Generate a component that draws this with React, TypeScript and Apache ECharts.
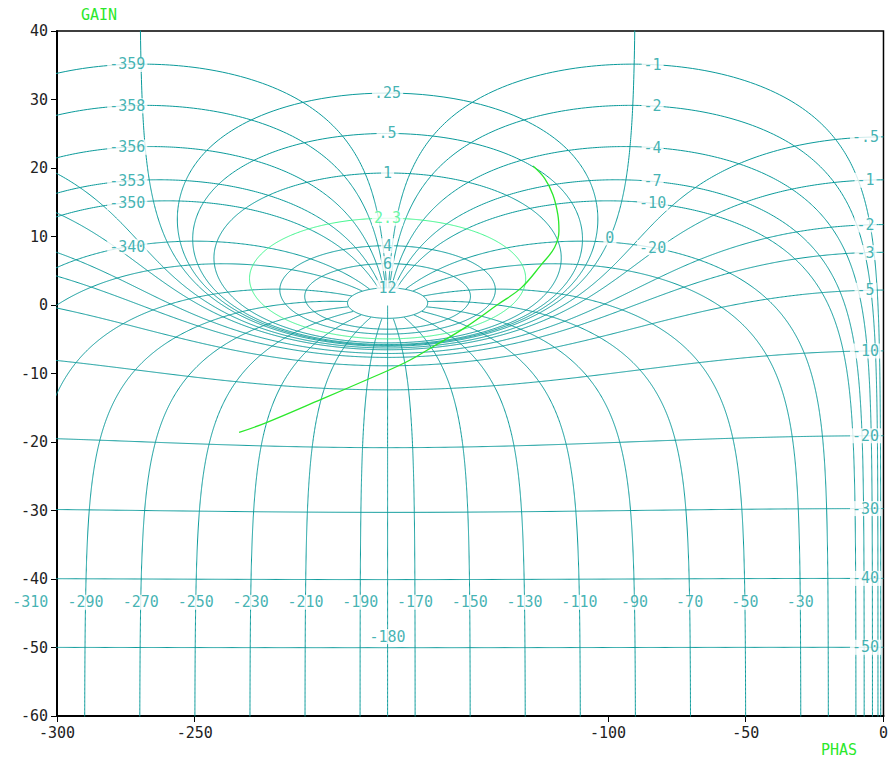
import React, { useEffect, useRef } from 'react';
import * as echarts from 'echarts';

// ---- axes ----
const X_MIN = -300;
const X_MAX = 0;
const Y_MIN = -60;
const Y_MAX = 40;
const xTickValues = [-300, -250, -100, -50, 0];

// ---- Nichols grid levels ----
// closed-loop gain contours (dB)
const posMagDb = [0.25, 0.5, 1, 4, 6, 12];
const highlightMagDb = 2.3;
const zeroMagDb = 0;
const negMagDb = [-0.5, -1, -2, -3, -5, -10, -20, -30, -40, -50];
// closed-loop phase contours (deg)
const phaseTopRight = [-1, -2, -4, -7, -10, -20];
const phaseTopLeft = [-359, -358, -356, -353, -350, -340];
const phaseBottom = [-30, -50, -70, -90, -110, -130, -150, -170, -190, -210, -230, -250, -270, -290, -310, -330];
const phaseCenter = -180;
// phase contours stop at the largest gain contour
const phaseMaxMagDb = 12;

// ---- open-loop response (phase deg, gain dB) ----
const respPhase = [-233.9, -224.2, -203.7, -186.9, -173.6, -164.0, -151.9, -139.9, -131.5, -124.2, -119.4, -117.8, -118.2, -120.0, -123.0, -127.2];
const respGain = [-18.6, -17.2, -13.7, -10.8, -8.4, -6.2, -3.3, 0.1, 2.5, 5.9, 8.4, 10.8, 13.2, 16.1, 18.5, 20.3];

const TEAL = '#0a9a9a';
const TEAL_TXT = '#139f9f';
const MINT = '#3ff58c';
const GREEN = '#2be82b';
const FONT = 'DejaVu Sans Mono';

type P = [number, number];
const D = Math.PI / 180;

// open-loop point from closed-loop magnitude M (linear) and phase psi (deg), unwrapped
function olPoint(M: number, psiDeg: number): P {
  const p = psiDeg * D;
  const dr = 1 - M * Math.cos(p);
  const di = -M * Math.sin(p);
  const ph = psiDeg - Math.atan2(di, dr) / D;
  const g = 20 * Math.log10(M) - 10 * Math.log10(dr * dr + di * di);
  return [ph, g];
}

function phaseContour(psiDeg: number, mMinLog = -4, mMaxLog = phaseMaxMagDb / 20): P[] {
  const pts: P[] = [];
  const n = 1400;
  for (let i = 0; i <= n; i++) {
    const u = -2 + (4 * i) / n; // quadratic spacing dense near M=1
    const l = Math.sign(u) * u * u;
    if (l < mMinLog || l > mMaxLog) continue;
    pts.push(olPoint(Math.pow(10, l), psiDeg));
  }
  pts.push(olPoint(Math.pow(10, mMaxLog), psiDeg));
  return pts;
}

function magContour(mDb: number): P[] {
  const M = Math.pow(10, mDb / 20);
  const pts: P[] = [];
  const n = 2880;
  if (M <= 1) {
    const a = M === 1 ? 0.05 : 0;
    for (let i = 0; i <= n; i++) {
      const psi = -a - ((360 - 2 * a) * i) / n;
      pts.push(olPoint(M, psi));
    }
  } else {
    for (let i = 0; i <= n; i++) {
      const psi = (-360 * i) / n;
      const p = psi * D;
      const tr = M * Math.cos(p), ti = M * Math.sin(p);
      const dr = 1 - tr, di = -ti;
      const den = dr * dr + di * di;
      const gr = (tr * dr + ti * di) / den;
      const gi = (ti * dr - tr * di) / den;
      let ph = Math.atan2(gi, gr) / D;
      if (ph > 0) ph -= 360;
      pts.push([ph, 10 * Math.log10(gr * gr + gi * gi)]);
    }
  }
  return pts;
}

function atPhase(pts: P[], target: number): P | null {
  for (let i = 0; i < pts.length - 1; i++) {
    const a = pts[i], b = pts[i + 1];
    if ((a[0] - target) * (b[0] - target) <= 0 && a[0] !== b[0]) {
      const t = (target - a[0]) / (b[0] - a[0]);
      return [target, a[1] + t * (b[1] - a[1])];
    }
  }
  return null;
}
function atGain(pts: P[], target: number): P | null {
  for (let i = 0; i < pts.length - 1; i++) {
    const a = pts[i], b = pts[i + 1];
    if ((a[1] - target) * (b[1] - target) <= 0 && a[1] !== b[1]) {
      const t = (target - a[1]) / (b[1] - a[1]);
      return [a[0] + t * (b[0] - a[0]), target];
    }
  }
  return null;
}
function topPoint(pts: P[]): P {
  let best = pts[0];
  for (const p of pts) if (p[1] > best[1]) best = p;
  return [-180, best[1]];
}
const fmt = (v: number) => String(v).replace('0.', '.');

function buildOption() {
  const series: any[] = [];
  const labels: any[] = [];
  const lineSeries = (pts: P[], color = TEAL, width = 1, z = 2) => ({
    type: 'line',
    data: pts,
    showSymbol: false,
    symbol: 'none',
    silent: true,
    clip: true,
    z,
    lineStyle: { color, width },
  });
  const addLabel = (p: P | null, text: string, color = TEAL_TXT) => {
    if (!p || p[0] < X_MIN - 12) return; // label would fall off the page
    labels.push({ value: p, name: text, label: { color } });
  };

  // closed-loop magnitude contours
  posMagDb.forEach((m) => {
    const pts = magContour(m);
    series.push(lineSeries(pts));
    addLabel(topPoint(pts), fmt(m));
  });
  {
    const pts = magContour(highlightMagDb);
    series.push(lineSeries(pts, MINT, 1, 3));
    addLabel(topPoint(pts), fmt(highlightMagDb), MINT);
  }
  {
    const pts = magContour(zeroMagDb);
    series.push(lineSeries(pts));
    addLabel(atGain(pts, 9.8), fmt(zeroMagDb));
  }
  negMagDb.forEach((m) => {
    const pts = magContour(m);
    series.push(lineSeries(pts));
    addLabel(atPhase(pts, -6.5), fmt(m));
  });

  // closed-loop phase contours
  phaseTopRight.forEach((ps) => {
    const pts = phaseContour(ps);
    series.push(lineSeries(pts));
    addLabel(atPhase(pts, -83.8), String(ps));
  });
  phaseTopLeft.forEach((ps) => {
    const pts = phaseContour(ps);
    series.push(lineSeries(pts));
    addLabel(atPhase(pts, -274.5), String(ps));
  });
  phaseBottom.forEach((ps) => {
    const pts = phaseContour(ps);
    series.push(lineSeries(pts));
    addLabel(atGain(pts, -43.4), String(ps));
  });
  {
    // -180 line (lower half) and the 0/-360 branch (upper half) form the full vertical line
    const pts = phaseContour(phaseCenter, -4, 4);
    series.push(lineSeries(pts));
    addLabel(atGain(pts, -48.4), String(phaseCenter));
    series.push(lineSeries(phaseContour(0, 0.0001, 4)));
  }

  // open-loop response
  series.push({
    type: 'line',
    data: respPhase.map((p, i) => [p, respGain[i]]),
    showSymbol: false,
    symbol: 'none',
    smooth: 0.4,
    silent: true,
    z: 4,
    lineStyle: { color: GREEN, width: 1.3 },
  });

  // contour labels
  series.push({
    type: 'scatter',
    data: labels,
    symbolSize: 1,
    clip: false,
    silent: true,
    z: 10,
    itemStyle: { color: 'rgba(0,0,0,0)' },
    label: {
      show: true,
      position: 'inside',
      formatter: '{b}',
      fontFamily: FONT,
      fontSize: 15,
      align: 'center',
      verticalAlign: 'middle',
      backgroundColor: '#fff',
      padding: [0, 2],
    },
  });

  return {
    animation: false,
    backgroundColor: '#fff',
    grid: {
      left: 57,
      right: 4,
      top: 31,
      bottom: 44,
      show: true,
      borderColor: '#000',
      borderWidth: 1.5,
      backgroundColor: 'transparent',
    },
    xAxis: {
      type: 'value',
      min: X_MIN,
      max: X_MAX,
      interval: 50,
      splitLine: { show: false },
      axisLine: { show: true, onZero: false, lineStyle: { color: '#000', width: 2 } },
      axisTick: { show: true, length: 6, customValues: xTickValues, lineStyle: { color: '#000' } },
      axisLabel: {
        customValues: xTickValues,
        color: '#222',
        fontFamily: FONT,
        fontSize: 15,
        margin: 9,
      },
    },
    yAxis: {
      type: 'value',
      min: Y_MIN,
      max: Y_MAX,
      interval: 10,
      splitLine: { show: false },
      axisLine: { show: true, onZero: false, lineStyle: { color: '#000', width: 2 } },
      axisTick: { show: true, length: 6, lineStyle: { color: '#000' } },
      axisLabel: { color: '#222', fontFamily: FONT, fontSize: 15, margin: 9 },
    },
    graphic: [
      {
        type: 'text',
        left: 81,
        top: 7,
        style: { text: 'GAIN', fill: GREEN, font: `15px ${FONT}` },
      },
      {
        type: 'text',
        left: 821,
        top: 742,
        style: { text: 'PHAS', fill: GREEN, font: `15px ${FONT}` },
      },
    ],
    series,
  };
}

export default function App() {
  const ref = useRef<HTMLDivElement>(null);
  useEffect(() => {
    document.body.style.margin = '0';
    const chart = echarts.init(ref.current!, null, { renderer: 'svg' });
    chart.setOption(buildOption() as any);
    return () => chart.dispose();
  }, []);
  return <div ref={ref} style={{ width: 891, height: 760 }} />;
}
